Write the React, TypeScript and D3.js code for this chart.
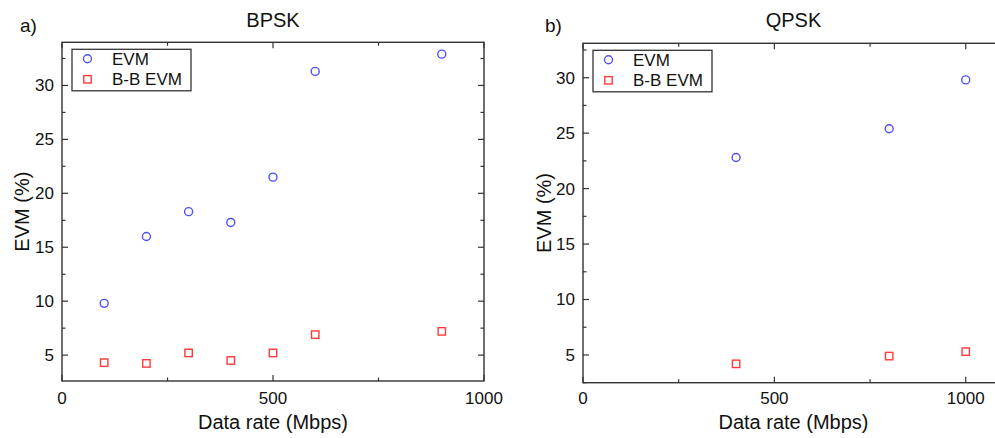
import React from "react";
import * as d3 from "d3";

const bpskRate = [100, 200, 300, 400, 500, 600, 900];
const bpskEvm = [9.8, 16.0, 18.3, 17.3, 21.5, 31.3, 32.9];
const bpskBB = [4.3, 4.23, 5.2, 4.5, 5.2, 6.9, 7.2];

const qpskRate = [400, 800, 1000];
const qpskEvm = [22.8, 25.4, 29.8];
const qpskBB = [4.2, 4.9, 5.3];

const xTicks = [0, 500, 1000];
const yTicks = [5, 10, 15, 20, 25, 30];
const legendLabels = ["EVM", "B-B EVM"];

const FONT = "'Liberation Sans', Arial, sans-serif";
const BLUE = "#4f4fff";
const RED = "#ff3a3a";
const AXIS = "#333";

type PanelProps = {
  left: number; right: number; top: number; bottom: number;
  xMax: number; yMin: number; yMax: number;
  rate: number[]; evm: number[]; bb: number[];
  title: string; tag: string; tagX: number; ylabX: number;
};

function Panel(p: PanelProps) {
  const x = d3.scaleLinear().domain([0, p.xMax]).range([p.left, p.right]);
  const y = d3.scaleLinear().domain([p.yMin, p.yMax]).range([p.bottom, p.top]);
  const minorX = d3.range(250, p.xMax, 500);
  const minorY = d3.range(2.5, p.yMax, 5).filter((v) => v >= p.yMin);
  const cx = (p.left + p.right) / 2;
  const cy = (p.top + p.bottom) / 2;
  const lgX = p.left + 10;
  const lgY = p.top + 7;
  return (
    <g>
      <text x={p.tagX} y={32} fontSize={19} fontFamily={FONT} fill="#111">{p.tag}</text>
      <text x={cx} y={27} fontSize={20} fontFamily={FONT} textAnchor="middle" fill="#111">{p.title}</text>
      <rect x={p.left} y={p.top} width={p.right - p.left} height={p.bottom - p.top} fill="none" stroke={AXIS} strokeWidth={1.4} />
      {xTicks.map((t) => (
        <g key={"x" + t}>
          <line x1={x(t)} x2={x(t)} y1={p.bottom} y2={p.bottom - 6} stroke={AXIS} strokeWidth={1.2} />
          <line x1={x(t)} x2={x(t)} y1={p.top} y2={p.top + 6} stroke={AXIS} strokeWidth={1.2} />
          <text x={x(t)} y={404} fontSize={17} fontFamily={FONT} textAnchor="middle" fill="#111">{t}</text>
        </g>
      ))}
      {minorX.map((t) => (
        <g key={"mx" + t}>
          <line x1={x(t)} x2={x(t)} y1={p.bottom} y2={p.bottom - 3.5} stroke={AXIS} strokeWidth={1.2} />
          <line x1={x(t)} x2={x(t)} y1={p.top} y2={p.top + 3.5} stroke={AXIS} strokeWidth={1.2} />
        </g>
      ))}
      {yTicks.map((t) => (
        <g key={"y" + t}>
          <line x1={p.left} x2={p.left + 6} y1={y(t)} y2={y(t)} stroke={AXIS} strokeWidth={1.2} />
          <line x1={p.right} x2={p.right - 6} y1={y(t)} y2={y(t)} stroke={AXIS} strokeWidth={1.2} />
          <text x={p.left - 8} y={y(t)} dy="0.35em" fontSize={17} fontFamily={FONT} textAnchor="end" fill="#111">{t}</text>
        </g>
      ))}
      {minorY.map((t) => (
        <g key={"my" + t}>
          <line x1={p.left} x2={p.left + 3.5} y1={y(t)} y2={y(t)} stroke={AXIS} strokeWidth={1.2} />
          <line x1={p.right} x2={p.right - 3.5} y1={y(t)} y2={y(t)} stroke={AXIS} strokeWidth={1.2} />
        </g>
      ))}
      <text x={cx} y={429} fontSize={20} fontFamily={FONT} textAnchor="middle" fill="#111">Data rate (Mbps)</text>
      <text transform={`translate(${p.ylabX},${cy}) rotate(-90)`} fontSize={20} fontFamily={FONT} textAnchor="middle" fill="#111">EVM (%)</text>
      {p.rate.map((r, i) => (
        <circle key={"c" + i} cx={x(r)} cy={y(p.evm[i])} r={4} fill="none" stroke={BLUE} strokeWidth={1.4} />
      ))}
      {p.rate.map((r, i) => (
        <rect key={"s" + i} x={x(r) - 3.7} y={y(p.bb[i]) - 3.7} width={7.4} height={7.4} fill="none" stroke={RED} strokeWidth={1.4} />
      ))}
      <rect x={lgX} y={lgY} width={119} height={41.5} fill="#fff" stroke={AXIS} strokeWidth={1.3} />
      <circle cx={lgX + 15.5} cy={lgY + 9.5} r={4} fill="none" stroke={BLUE} strokeWidth={1.4} />
      <rect x={lgX + 15.5 - 3.7} y={lgY + 30 - 3.7} width={7.4} height={7.4} fill="none" stroke={RED} strokeWidth={1.4} />
      <text x={lgX + 40} y={lgY + 9.5} dy="0.36em" fontSize={17} fontFamily={FONT} fill="#111">{legendLabels[0]}</text>
      <text x={lgX + 40} y={lgY + 30} dy="0.36em" fontSize={17} fontFamily={FONT} fill="#111">{legendLabels[1]}</text>
    </g>
  );
}

export default function App() {
  return (
    <svg width={995} height={438} style={{ position: "absolute", left: 0, top: 0, background: "#fff" }}>
      <rect width={995} height={438} fill="#fff" />
      <Panel left={62} right={484} top={42.3} bottom={381} xMax={1000} yMin={2.6} yMax={34}
        rate={bpskRate} evm={bpskEvm} bb={bpskBB} title="BPSK" tag="a)" tagX={20} ylabX={29} />
      <Panel left={583} right={1004} top={43.3} bottom={382.7} xMax={1100} yMin={2.5} yMax={33.1}
        rate={qpskRate} evm={qpskEvm} bb={qpskBB} title="QPSK" tag="b)" tagX={545} ylabX={551} />
    </svg>
  );
}
